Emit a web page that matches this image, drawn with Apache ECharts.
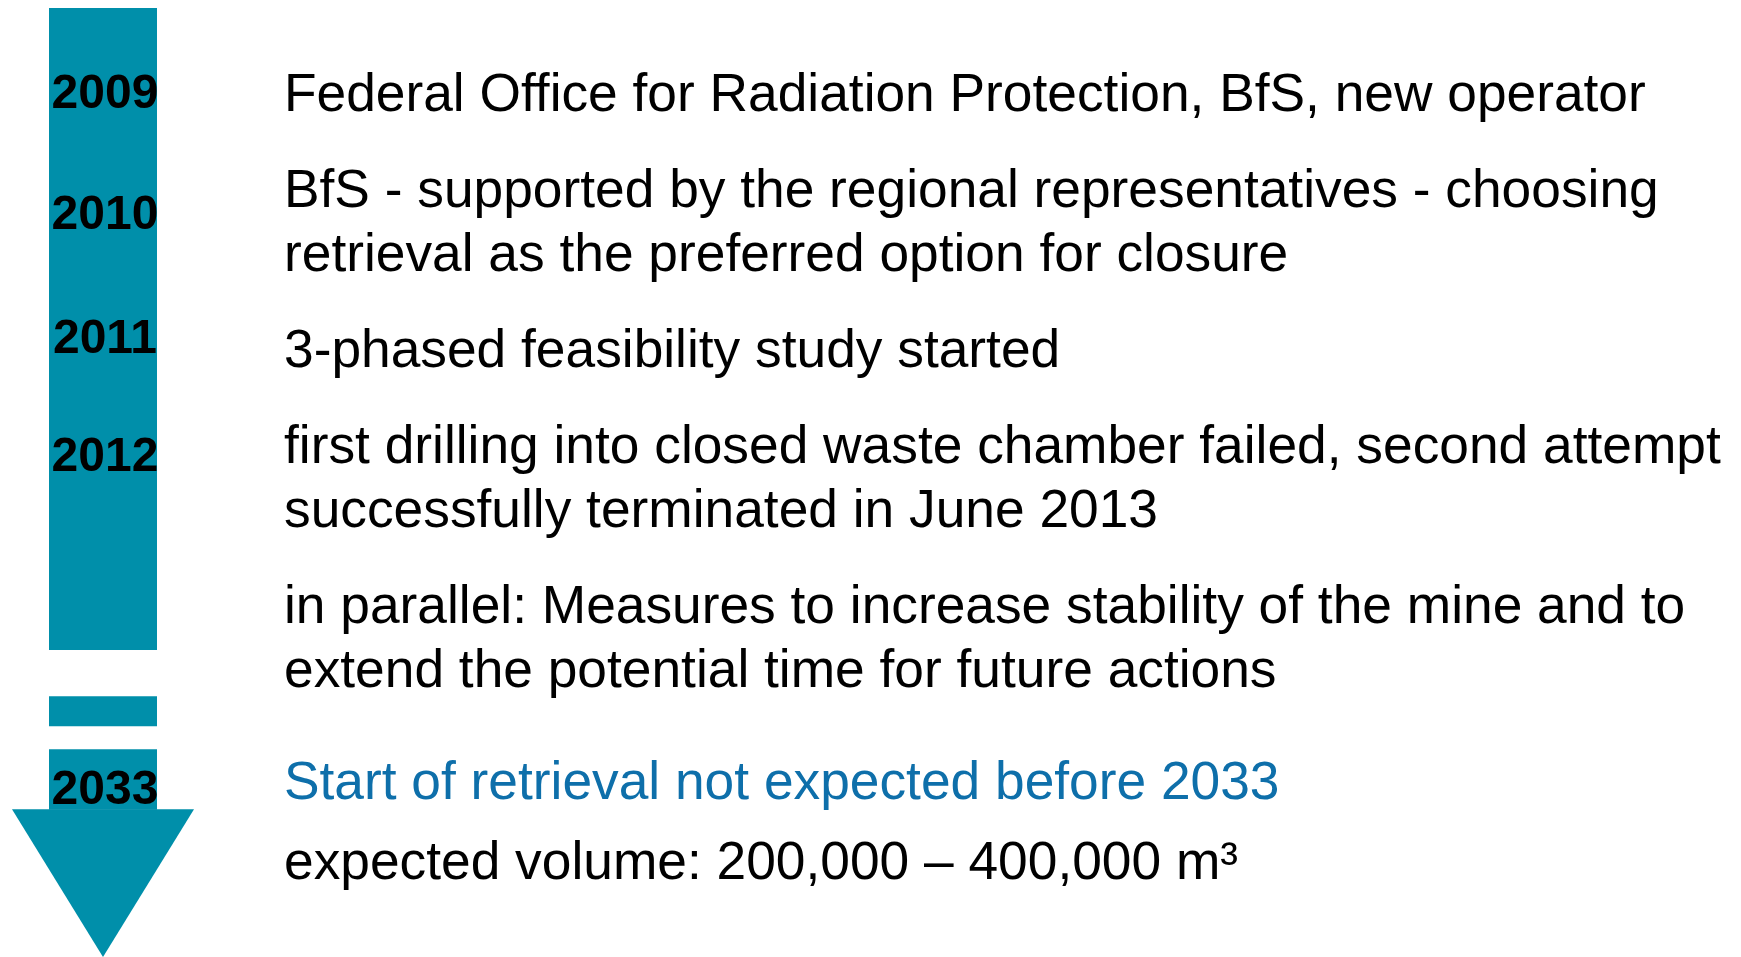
<!DOCTYPE html>
<html>
<head>
<meta charset="utf-8">
<title>Retrieval timeline</title>
<script src="https://cdn.jsdelivr.net/npm/echarts@6/dist/echarts.min.js"></script>
<style>
    html, body { margin: 0; padding: 0; background: #fff; }
    #timeline { width: 1741px; height: 957px; }
</style>
</head>
<body>
<div id="timeline"></div>
<script>
// vertical position is measured in "rows" (one text line step ~ 32px)
const years = ['2009', '2010', '2011', '2012', '2033'];
const yearRows = [2.96, 6.74, 10.6, 14.3, 24.7];

const lines = [
    'Federal Office for Radiation Protection, BfS, new operator',
    'BfS - supported by the regional representatives - choosing',
    'retrieval as the preferred option for closure',
    '3-phased feasibility study started',
    'first drilling into closed waste chamber failed, second attempt',
    'successfully terminated in June 2013',
    'in parallel: Measures to increase stability of the mine and to',
    'extend the potential time for future actions',
    'Start of retrieval not expected before 2033',
    'expected volume: 200,000 \u2013 400,000 m\u00b3'
];
const lineRows = [3.0, 6.0, 8.0, 11.0, 14.0, 16.0, 19.0, 21.0, 24.5, 27.0];
const lineHighlight = [0, 0, 0, 0, 0, 0, 0, 0, 1, 0];

// arrow shaft pieces [from, to] and the head [base, tip]
const arrowBars = [[0.25, 20.31], [21.75, 22.69], [23.41, 25.3]];
const arrowHead = [[25.28, 29.9]];

const TEAL = '#008faa';
const BLUE = '#0e6faa';
const FONT = '"Liberation Sans", Arial, Helvetica, sans-serif';
const ARROW_X = 103;
const YEAR_X = 105;
const TEXT_X = 284;
const BAR_W = 108;
const HEAD_W = 182;

let chartDom = document.getElementById('timeline');
let myChart = echarts.init(chartDom);
let option = {
    animation: false,
    backgroundColor: '#fff',
    grid: {
        left: 0,
        right: 0,
        top: 0,
        bottom: 0
    },
    xAxis: {
        type: 'value',
        min: 0,
        max: 1741,
        show: false
    },
    yAxis: {
        type: 'value',
        min: 0,
        max: 29.9,
        inverse: true,
        show: false
    },
    series: [
        {
            name: 'shaft',
            type: 'custom',
            data: arrowBars,
            renderItem: function (params, api) {
                let top = api.coord([ARROW_X, api.value(0)]);
                let bottom = api.coord([ARROW_X, api.value(1)]);
                return {
                    type: 'rect',
                    shape: {
                        x: top[0] - BAR_W / 2,
                        y: top[1],
                        width: BAR_W,
                        height: bottom[1] - top[1]
                    },
                    style: { fill: TEAL }
                };
            }
        },
        {
            name: 'head',
            type: 'custom',
            data: arrowHead,
            renderItem: function (params, api) {
                let base = api.coord([ARROW_X, api.value(0)]);
                let tip = api.coord([ARROW_X, api.value(1)]);
                return {
                    type: 'polygon',
                    shape: {
                        points: [
                            [base[0] - HEAD_W / 2, base[1]],
                            [base[0] + HEAD_W / 2, base[1]],
                            [tip[0], tip[1]]
                        ]
                    },
                    style: { fill: TEAL }
                };
            }
        },
        {
            name: 'years',
            type: 'custom',
            z: 5,
            data: yearRows.map(r => [YEAR_X, r]),
            renderItem: function (params, api) {
                let p = api.coord([api.value(0), api.value(1)]);
                return {
                    type: 'text',
                    x: p[0],
                    y: p[1],
                    style: {
                        text: years[params.dataIndex],
                        font: 'bold 48px ' + FONT,
                        fill: '#000',
                        align: 'center',
                        verticalAlign: 'middle'
                    }
                };
            }
        },
        {
            name: 'events',
            type: 'custom',
            z: 5,
            data: lineRows.map(r => [TEXT_X, r]),
            renderItem: function (params, api) {
                let i = params.dataIndex;
                let p = api.coord([api.value(0), api.value(1)]);
                return {
                    type: 'text',
                    x: p[0],
                    y: p[1],
                    style: {
                        text: lines[i],
                        font: '53.3px ' + FONT,
                        fill: lineHighlight[i] ? BLUE : '#000',
                        align: 'left',
                        verticalAlign: 'middle'
                    }
                };
            }
        }
    ]
};
option && myChart.setOption(option);
</script>
</body>
</html>
